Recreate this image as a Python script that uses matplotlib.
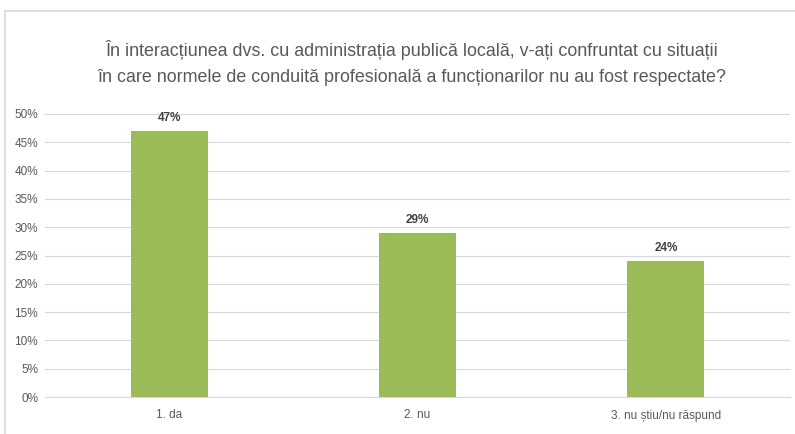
import matplotlib.pyplot as plt
from matplotlib.patches import Rectangle
from matplotlib.ticker import PercentFormatter

plt.rcParams['font.family'] = ['Liberation Sans', 'DejaVu Sans']

categories = ['1. da', '2. nu', '3. nu știu/nu răspund']
values = [47, 29, 24]
labels = ['47%', '29%', '24%']

fig = plt.figure(figsize=(7.95, 4.34), dpi=100)

# outer chart border (right edge is cropped in the original)
fig.patches.append(Rectangle((5 / 795, -0.01), 1.0, (434 - 11) / 434 + 0.01,
                             transform=fig.transFigure, fill=False,
                             edgecolor='#d9d9d9', linewidth=1.2))

fig.text(0.518, 0.855, 'În interacțiunea dvs. cu administrația publică locală, v-ați confruntat cu situații\n'
         'în care normele de conduită profesională a funcționarilor nu au fost respectate?',
         ha='center', va='center', fontsize=12.9, color='#595959', linespacing=1.75)

ax = fig.add_axes([45 / 795, (434 - 397) / 434, 745 / 795, (397 - 114) / 434])
x = range(len(categories))
ax.bar(x, values, width=0.31, color='#9bbb59', zorder=3)
for xi, v, lab in zip(x, values, labels):
    ax.text(xi, v + 1.3, lab, ha='center', va='bottom', fontsize=8.5,
            color='#404040', fontweight='bold')

ax.set_ylim(0, 50)
ax.set_xlim(-0.5, 2.5)
ax.set_yticks(range(0, 51, 5))
ax.yaxis.set_major_formatter(PercentFormatter(decimals=0))
ax.set_xticks(list(x))
ax.set_xticklabels(categories)
ax.grid(axis='y', color='#d9d9d9', linewidth=0.8, zorder=0)
for s in ['top', 'right', 'left']:
    ax.spines[s].set_visible(False)
ax.spines['bottom'].set_color('#d9d9d9')
ax.tick_params(axis='both', length=0, labelsize=8.5, colors='#595959')
ax.tick_params(axis='y', pad=5)
ax.tick_params(axis='x', pad=9)

fig.savefig('out.png', dpi=100)
